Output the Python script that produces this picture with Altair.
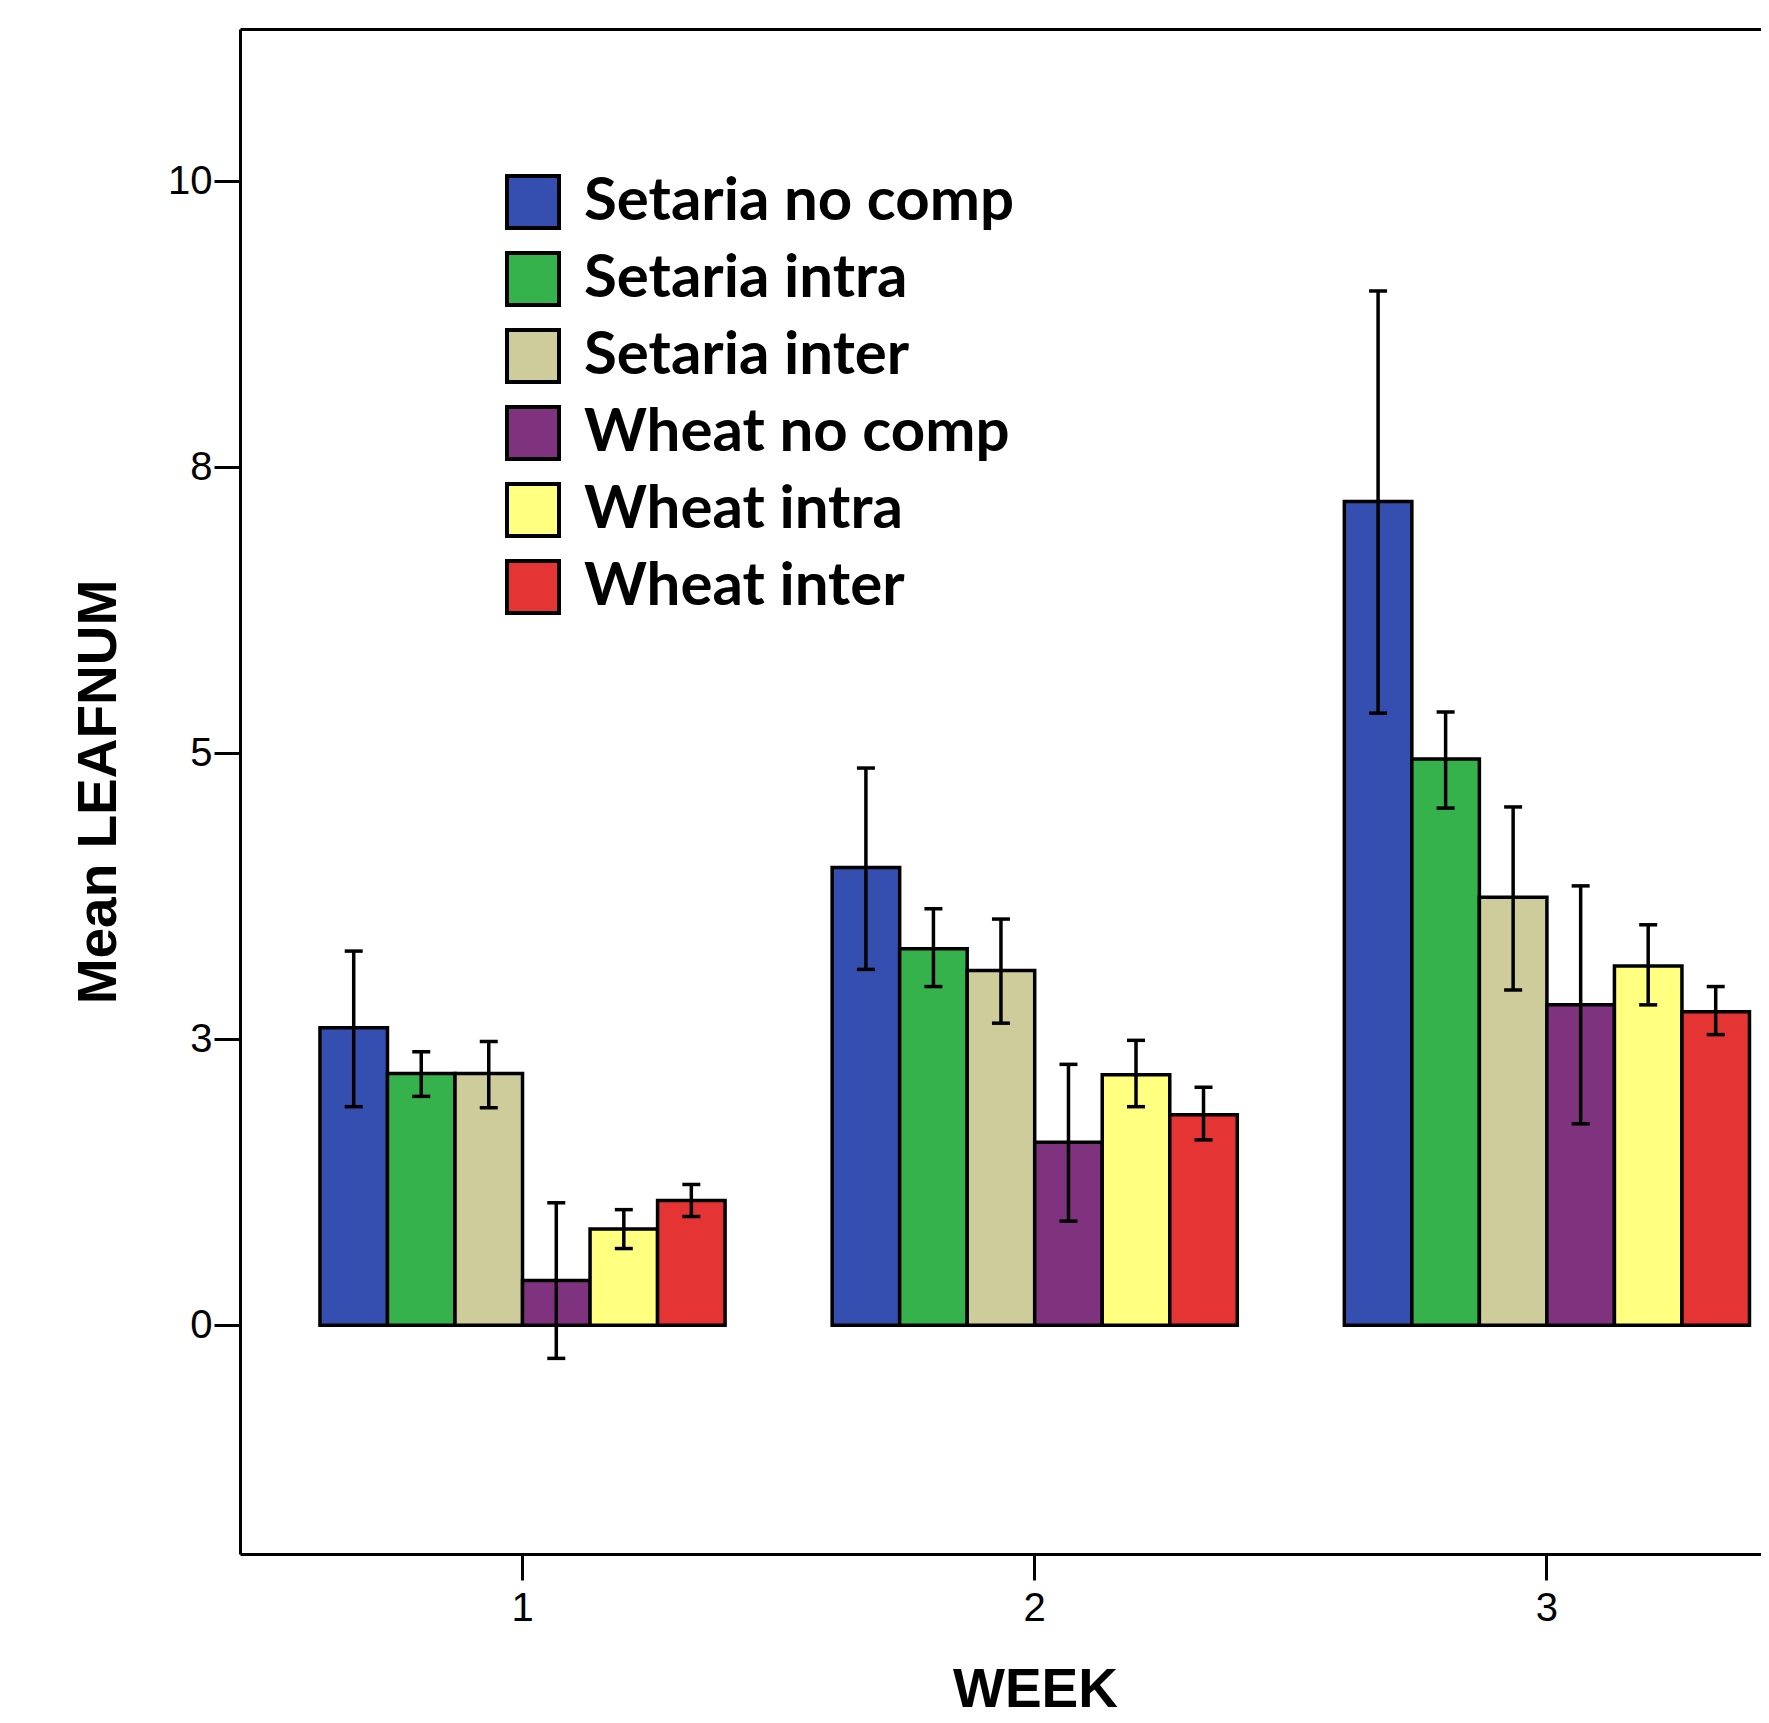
import altair as alt
import pandas as pd

weeks = ["1", "2", "3"]
groups = ["Setaria no comp", "Setaria intra", "Setaria inter",
          "Wheat no comp", "Wheat intra", "Wheat inter"]
colors = ["#354fb0", "#36b24c", "#cfcc9b", "#7f337f", "#ffff80", "#e43434"]

means = {
    "Setaria no comp": [2.60, 4.00, 7.20],
    "Setaria intra":   [2.20, 3.29, 4.95],
    "Setaria inter":   [2.20, 3.10, 3.74],
    "Wheat no comp":   [0.39, 1.60, 2.80],
    "Wheat intra":     [0.84, 2.19, 3.14],
    "Wheat inter":     [1.09, 1.84, 2.74],
}
upper = {
    "Setaria no comp": [3.27, 4.87, 9.04],
    "Setaria intra":   [2.39, 3.64, 5.36],
    "Setaria inter":   [2.48, 3.55, 4.53],
    "Wheat no comp":   [1.07, 2.28, 3.84],
    "Wheat intra":     [1.01, 2.49, 3.50],
    "Wheat inter":     [1.23, 2.08, 2.96],
}
lower = {
    "Setaria no comp": [1.91, 3.11, 5.35],
    "Setaria intra":   [2.00, 2.96, 4.52],
    "Setaria inter":   [1.90, 2.64, 2.93],
    "Wheat no comp":   [-0.29, 0.91, 1.76],
    "Wheat intra":     [0.67, 1.91, 2.80],
    "Wheat inter":     [0.95, 1.62, 2.54],
}
y_ticks = [0, 2.5, 5, 7.5, 10]

rows = []
for g in groups:
    for i, w in enumerate(weeks):
        rows.append({"week": w, "group": g, "mean": means[g][i],
                     "hi": upper[g][i], "lo": lower[g][i]})
df = pd.DataFrame(rows)

W = 1521
H = 1525

xscale = alt.Scale(domain=weeks, paddingInner=0.209, paddingOuter=0.0893, align=0.874)
yscale = alt.Scale(domain=[-2, 11.33], nice=False, zero=False)
offscale = alt.Scale(domain=groups, paddingInner=0, paddingOuter=0)

FONT = "Liberation Sans"

x_bottom = alt.X("week:N", scale=xscale, sort=weeks,
                 axis=alt.Axis(orient="bottom", title="WEEK", labelAngle=0,
                               labelFont=FONT, labelFontSize=40, labelColor="black",
                               labelPadding=8,
                               tickSize=26, tickWidth=3, tickColor="black",
                               domainWidth=3, domainColor="black",
                               titleFont=FONT, titleFontSize=55, titleFontWeight="bold",
                               titleColor="black", titlePadding=35, titleX=795,
                               grid=False))
x_top = alt.X("week:N", scale=xscale, sort=weeks,
              axis=alt.Axis(orient="top", title=None, labels=False, ticks=False,
                            domainWidth=3, domainColor="black", grid=False))
x_plain = alt.X("week:N", scale=xscale, sort=weeks, axis=None)

y_axis = alt.Axis(orient="left", values=y_ticks, format=".0f", title="Mean LEAFNUM",
                  labelFont=FONT, labelFontSize=40, labelColor="black", labelPadding=2,
                  tickSize=26, tickWidth=3, tickColor="black",
                  domainWidth=3, domainColor="black",
                  titleFont=FONT, titleFontSize=55, titleFontWeight="bold",
                  titleColor="black", titlePadding=40, grid=False)

base = alt.Chart(df)
off = alt.XOffset("group:N", scale=offscale, sort=groups)

bars = base.mark_bar(stroke="black", strokeWidth=3.5, strokeJoin="miter").encode(
    x=x_bottom,
    xOffset=off,
    y=alt.Y("mean:Q", scale=yscale, axis=y_axis),
    fill=alt.Fill("group:N", sort=groups,
                  scale=alt.Scale(domain=groups, range=colors),
                  legend=alt.Legend(title=None, orient="none", legendX=263, legendY=143,
                                    symbolType="square", symbolSize=2704,
                                    symbolStrokeColor="black", symbolStrokeWidth=4,
                                    symbolOpacity=1,
                                    labelFont="Lato", labelFontWeight="bold",
                                    labelFontSize=60, labelColor="black",
                                    labelOffset=21, rowPadding=9, padding=0,
                                    labelLimit=1000)),
)

rules = base.mark_rule(color="black", strokeWidth=3.5).encode(
    x=x_top,
    xOffset=off,
    y=alt.Y("lo:Q", scale=yscale, axis=y_axis),
    y2="hi:Q",
)

cap_hi = base.mark_tick(color="black", thickness=3.5, size=18, opacity=1).encode(
    x=x_plain,
    xOffset=off,
    y=alt.Y("hi:Q", scale=yscale, axis=y_axis),
)
cap_lo = base.mark_tick(color="black", thickness=3.5, size=18, opacity=1).encode(
    x=x_plain,
    xOffset=off,
    y=alt.Y("lo:Q", scale=yscale, axis=y_axis),
)

chart = alt.layer(bars, rules, cap_hi, cap_lo).properties(
    width=W, height=H,
    autosize=alt.AutoSizeParams(type="none"),
    padding={"left": 232, "top": 21, "right": 0, "bottom": 161},
    background="white",
).configure_view(stroke=None)

chart.save("out.html", embed_options={"renderer": "svg", "actions": False})
